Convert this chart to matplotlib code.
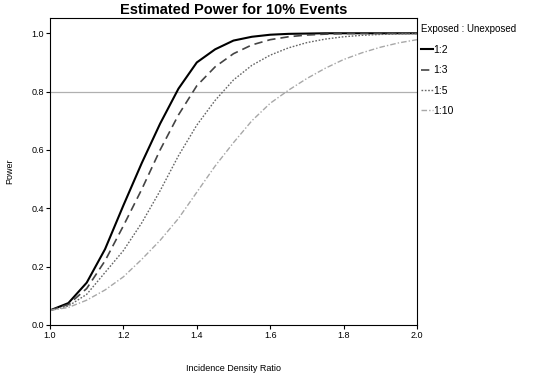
import matplotlib

matplotlib.use("Agg")
import matplotlib.pyplot as plt

plt.rcParams["font.family"] = ["Liberation Sans", "DejaVu Sans"]

# incidence density ratio grid
ratio = [1.00, 1.05, 1.10, 1.15, 1.20, 1.25, 1.30, 1.35, 1.40, 1.45, 1.50,
         1.55, 1.60, 1.65, 1.70, 1.75, 1.80, 1.85, 1.90, 1.95, 2.00]

# estimated power per exposed:unexposed allocation
power_1_2 = [0.05, 0.075, 0.145, 0.26, 0.41, 0.555, 0.69, 0.81, 0.90, 0.945, 0.975,
             0.988, 0.995, 0.998, 0.999, 1.0, 1.0, 1.0, 1.0, 1.0, 1.0]
power_1_3 = [0.05, 0.07, 0.125, 0.22, 0.34, 0.465, 0.60, 0.72, 0.82, 0.885, 0.93,
             0.96, 0.978, 0.988, 0.994, 0.997, 0.999, 1.0, 1.0, 1.0, 1.0]
power_1_5 = [0.05, 0.065, 0.105, 0.18, 0.255, 0.35, 0.46, 0.58, 0.685, 0.77, 0.84,
             0.89, 0.925, 0.95, 0.968, 0.98, 0.988, 0.993, 0.996, 0.998, 0.999]
power_1_10 = [0.05, 0.06, 0.085, 0.12, 0.165, 0.225, 0.29, 0.365, 0.455, 0.545, 0.625,
              0.70, 0.76, 0.805, 0.845, 0.88, 0.91, 0.933, 0.952, 0.967, 0.978]

labels = ["1:2", "1:3", "1:5", "1:10"]
target_power = 0.8

fig = plt.figure(figsize=(5.4, 3.77), dpi=100)
ax = fig.add_axes([0.0926, 0.138, 0.6796, 0.814])

ax.axhline(target_power, color="#b0b0b0", lw=0.9, zorder=1)
ax.plot(ratio, power_1_2, color="black", lw=1.5, label=labels[0])
ax.plot(ratio, power_1_3, color="#444444", lw=1.2, ls=(0, (5, 3)), label=labels[1])
ax.plot(ratio, power_1_5, color="#666666", lw=1.0, ls=(0, (1.2, 1.2)), label=labels[2])
ax.plot(ratio, power_1_10, color="#a8a8a8", lw=1.0, ls=(0, (4, 1.5, 1, 1.5)), label=labels[3])

ax.set_xlim(1.0, 2.0)
ax.set_ylim(0.0, 1.052)
ax.set_xticks([1.0, 1.2, 1.4, 1.6, 1.8, 2.0])
ax.set_yticks([0.0, 0.2, 0.4, 0.6, 0.8, 1.0])
ax.xaxis.set_major_formatter(matplotlib.ticker.FormatStrFormatter("%.1f"))
ax.yaxis.set_major_formatter(matplotlib.ticker.FormatStrFormatter("%.1f"))
ax.tick_params(labelsize=6.5, length=3, width=0.8, pad=1.5)
for sp in ax.spines.values():
    sp.set_linewidth(0.8)

ax.set_title("Estimated Power for 10% Events", fontsize=10.5, fontweight="bold", pad=3)
ax.set_xlabel("Incidence Density Ratio", fontsize=6.5, labelpad=17)
ax.set_ylabel("Power", fontsize=6.5, labelpad=12)

leg = ax.legend(title="Exposed : Unexposed", loc="upper left",
                bbox_to_anchor=(1.0, 0.993), frameon=False, fontsize=7.5,
                title_fontsize=7.0, handlelength=1.1, handletextpad=0.05,
                labelspacing=1.0, borderaxespad=0.3, borderpad=0.1)
leg._legend_box.align = "left"

fig.savefig("out.png", dpi=100)
